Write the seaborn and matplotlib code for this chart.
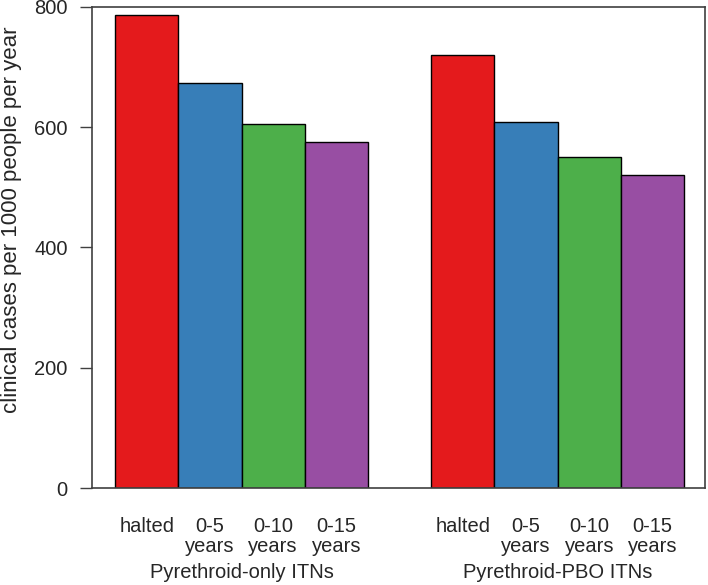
import numpy as np
import pandas as pd
import matplotlib
matplotlib.use('Agg')
import matplotlib.pyplot as plt
import seaborn as sns

# values
nets = ['Pyrethroid-only ITNs', 'Pyrethroid-PBO ITNs']
periods = ['halted', '0-5\nyears', '0-10\nyears', '0-15\nyears']
pyr_only = [787, 673, 606, 575]
pyr_pbo = [720, 608, 551, 520]
colors = ['#E41A1C', '#377EB8', '#4DAF4A', '#984EA3']

df = pd.DataFrame({
    'net': np.repeat(nets, len(periods)),
    'period': periods * 2,
    'cases': pyr_only + pyr_pbo,
})

sns.set_style('white')
plt.rcParams['font.family'] = ['Liberation Sans', 'DejaVu Sans']

fig = plt.figure(figsize=(7.08, 5.85), dpi=100)
ax = fig.add_axes([92 / 708, 97 / 585, 613 / 708, 481 / 585])

sns.barplot(data=df, x='net', y='cases', hue='period', palette=colors,
            saturation=1, edgecolor='black', linewidth=1, legend=False, ax=ax)

ax.set_ylim(0, 800)
ax.set_xlim(-0.473, 1.466)
ax.set_yticks([0, 200, 400, 600, 800])
ax.tick_params(axis='y', length=8.6, width=1, color='#404040', pad=9,
               labelsize=14.5, left=True)

# one tick label under each bar
centers = sorted([p.get_x() + p.get_width() / 2 for p in ax.patches if p.get_height() > 0])
ax.set_xticks(centers)
ax.set_xticklabels(periods * 2, linespacing=1.05)
ax.tick_params(axis='x', length=0, pad=21, labelsize=14.5)

for i, name in enumerate(nets):
    ax.annotate(name, xy=(i, 0), xycoords=('data', 'axes fraction'),
                xytext=(0, -60.5), textcoords='offset points',
                ha='center', va='center', fontsize=14.5)

ax.set_xlabel('')
ax.set_ylabel('clinical cases per 1000 people per year', fontsize=16)
ax.yaxis.set_label_coords(-0.114, 0.557)

for s in ax.spines.values():
    s.set_visible(True)
    s.set_color('#404040')
    s.set_linewidth(1.2)

fig.savefig('out.png', dpi=100)
